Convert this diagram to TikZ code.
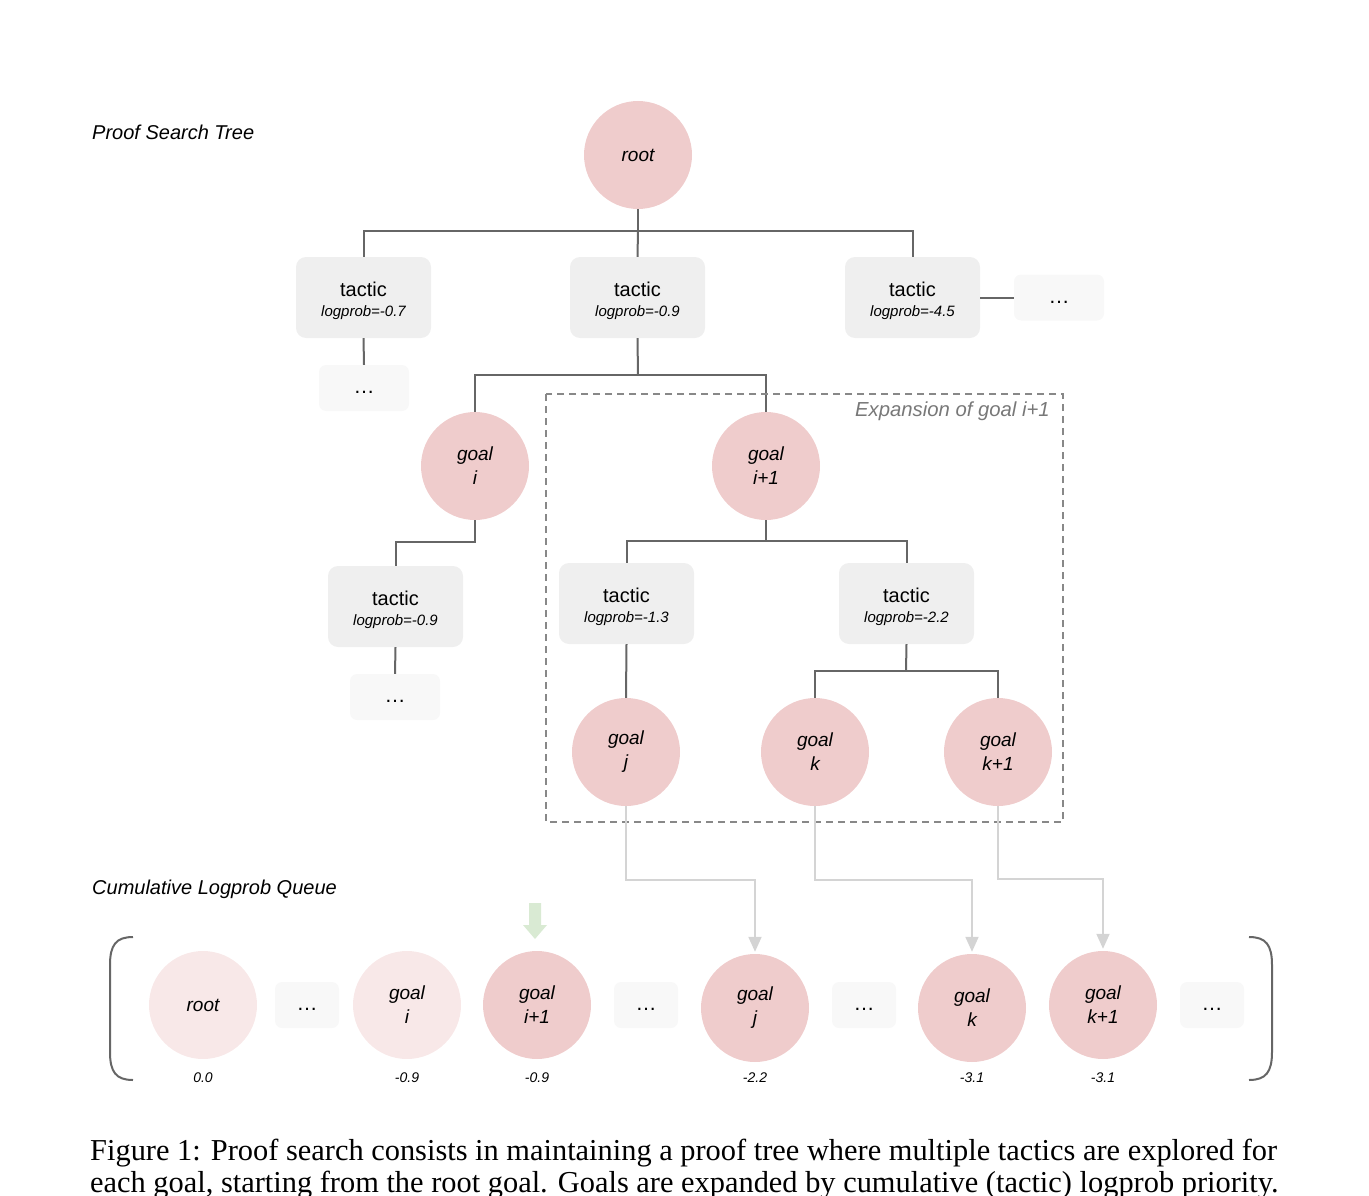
\documentclass[tikz,border=0pt]{standalone}
\usepackage{fontspec}
\setmainfont{Liberation Sans}
\newfontfamily\capfont{Liberation Serif}
\usetikzlibrary{arrows.meta}
\definecolor{goalpink}{RGB}{239,204,204}
\definecolor{goallight}{RGB}{248,232,232}
\definecolor{tacgray}{RGB}{239,239,239}
\definecolor{dotgray}{RGB}{248,248,248}
\definecolor{linegray}{RGB}{102,102,102}
\definecolor{arrgray}{RGB}{212,212,212}
\definecolor{dashgray}{RGB}{136,136,136}
\definecolor{exptext}{RGB}{120,120,120}
\definecolor{greenarr}{RGB}{217,234,211}
\newcommand\tactxt[1]{\rule{0pt}{21pt}tactic\\{\fontsize{15}{17}\selectfont\itshape logprob=#1}}
\newcommand\dotstxt{\rule{0pt}{11pt}\dots}
\tikzset{
  goalnode/.style={circle, fill=goalpink, minimum size=108pt, inner sep=0pt, align=center, font=\fontsize{19}{24}\selectfont\itshape},
  goallt/.style={goalnode, fill=goallight},
  tacbox/.style={rounded corners=10pt, fill=tacgray, minimum width=135pt, minimum height=81pt, align=center, inner sep=2pt, font=\fontsize{20}{20.5}\selectfont},
  dotbox/.style={rounded corners=7pt, fill=dotgray, minimum width=90pt, minimum height=46pt, inner sep=0pt, font=\fontsize{21}{24}\selectfont},
  qdot/.style={dotbox, minimum width=64pt},
  conn/.style={draw=linegray, line width=2pt},
  qarrow/.style={draw=arrgray, line width=2pt, -{Triangle[length=15pt,width=13pt]}},
  qlabel/.style={font=\fontsize{14}{17}\selectfont\itshape},
  title/.style={anchor=west, inner sep=0pt, font=\fontsize{20}{24}\selectfont\itshape},
  captext/.style={anchor=base west, inner sep=0pt, font=\capfont\fontsize{30.4}{34}\selectfont},
}
\begin{document}
\begin{tikzpicture}[x=1pt,y=-1pt]
\useasboundingbox (0,0) rectangle (1369,1196);
\node[title] (ttree) at (92,132) {Proof Search Tree};
\node[title] (tqueue) at (92,889) {Cumulative Logprob Queue};

% tree
\node[goalnode] (root) at (638,155) {root};
\node[tacbox] (t1) at (363.5,297.5) {\tactxt{-0.7}};
\node[tacbox] (t2) at (637.5,297.5) {\tactxt{-0.9}};
\node[tacbox] (t3) at (912.5,297.5) {\tactxt{-4.5}};
\node[dotbox] (d1) at (364,388) {\dotstxt};
\node[dotbox] (d2) at (1059,297.5) {\dotstxt};
\node[goalnode] (gi) at (475,466) {goal\\i};
\node[goalnode] (gi1) at (766,466) {goal\\i+1};
\node[tacbox] (t4) at (395.5,606.5) {\tactxt{-0.9}};
\node[dotbox] (d3) at (395,697) {\dotstxt};
\node[tacbox] (t5) at (626.5,603.5) {\tactxt{-1.3}};
\node[tacbox] (t6) at (906.5,603.5) {\tactxt{-2.2}};
\node[goalnode] (gj) at (626,752) {goal\\j};
\node[goalnode] (gk) at (815,752) {goal\\k};
\node[goalnode] (gk1) at (998,752) {goal\\k+1};

\coordinate (j1) at (638,231);
\coordinate (j2) at (638,375);
\coordinate (j3) at (475,542);
\coordinate (j4) at (766,541);
\coordinate (j5) at (906,671);
\draw[conn] (root.south) -- (j1);
\draw[conn] (t1.north) |- (j1) -| (t3.north);
\draw[conn] (t2.north) -- (j1);
\draw[conn] (t1.south) -- (d1.north);
\draw[conn] (t3.east) -- (d2.west);
\draw[conn] (t2.south) -- (j2);
\draw[conn] (gi.north) |- (j2) -| (gi1.north);
\draw[conn] (gi.south) -- (j3) -| (t4.north);
\draw[conn] (t4.south) -- (d3.north);
\draw[conn] (gi1.south) -- (j4);
\draw[conn] (t5.north) |- (j4) -| (t6.north);
\draw[conn] (t5.south) -- (gj.north);
\draw[conn] (t6.south) -- (j5);
\draw[conn] (gk.north) |- (j5) -| (gk1.north);

% expansion box
\draw[dashgray, line width=2pt, dash pattern=on 7pt off 5pt] (546,394) rectangle (1063,822);
\node[anchor=east, inner sep=0pt, text=exptext, font=\fontsize{20.3}{24}\selectfont\itshape] (exp) at (1050,411) {Expansion of goal i+1};

% queue
\node[goallt] (q0) at (203,1005) {root};
\node[qdot] (qd1) at (307,1005) {\dotstxt};
\node[goallt] (q1) at (407,1005) {goal\\i};
\node[goalnode] (q2) at (537,1005) {goal\\i+1};
\node[qdot] (qd2) at (646,1005) {\dotstxt};
\node[goalnode] (q3) at (755,1008) {goal\\j};
\node[qdot] (qd3) at (864,1005) {\dotstxt};
\node[goalnode] (q4) at (972,1008) {goal\\k};
\node[goalnode] (q5) at (1103,1005) {goal\\k+1};
\node[qdot] (qd4) at (1212,1005) {\dotstxt};

\node[qlabel] (l0) at (203,1078) {0.0};
\node[qlabel] (l1) at (407,1078) {-0.9};
\node[qlabel] (l2) at (537,1078) {-0.9};
\node[qlabel] (l3) at (755,1078) {-2.2};
\node[qlabel] (l4) at (972,1078) {-3.1};
\node[qlabel] (l5) at (1103,1078) {-3.1};

\draw[linegray, line width=2pt] (133,937) .. controls (116,937) and (110,945) .. (110,965) -- (110,1052) .. controls (110,1072) and (116,1080) .. (133,1080);
\draw[linegray, line width=2pt] (1249,937) .. controls (1266,937) and (1272,945) .. (1272,965) -- (1272,1052) .. controls (1272,1072) and (1266,1080) .. (1249,1080);

\draw[qarrow, shorten >=2pt] (gj.south) -- ++(0,74) -| (q3.north);
\draw[qarrow, shorten >=2pt] (gk.south) -- ++(0,74) -| (q4.north);
\draw[qarrow, shorten >=2pt] (gk1.south) -- ++(0,73) -| (q5.north);

\fill[greenarr] (529,903) -- (541,903) -- (541,925) -- (547,925) -- (535,939) -- (523,925) -- (529,925) -- cycle;

% caption
\node[captext] (cap1) at (90,1160) {Figure 1: Proof search consists in maintaining a proof tree where multiple tactics are explored for};
\node[captext] (cap2) at (90,1192) {each goal, starting from the root goal. Goals are expanded by cumulative (tactic) logprob priority.};
\end{tikzpicture}
\end{document}
